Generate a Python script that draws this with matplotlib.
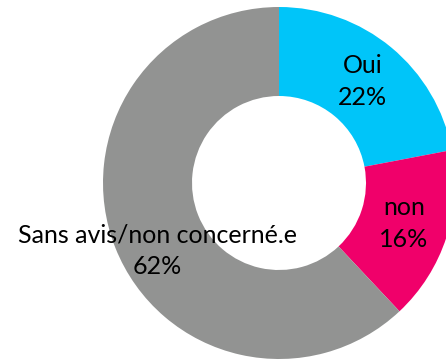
import matplotlib.pyplot as plt
import numpy as np

labels = ["Oui", "non", "Sans avis/non concerné.e"]
shares = [22, 16, 62]
colors = ["#00C5F9", "#F0006A", "#929392"]

plt.rcParams['font.family'] = ['Lato', 'DejaVu Sans']

fig = plt.figure(figsize=(4.46, 3.6), dpi=100)
ax = fig.add_axes([0, 0, 1, 1])

# ring in pixel units so the donut can run off the right edge
cx, cy = 279, 177
r_out, r_in = 176, 87
wedges, _ = ax.pie(shares, colors=colors, startangle=90, counterclock=False,
                   center=(cx, cy), radius=r_out,
                   wedgeprops=dict(width=r_out - r_in, linewidth=0))

# labels sit in the middle of the ring; the long one is nudged down
nudge = [(0, 0), (0, 0), (1, -19)]
r_mid = (r_out + r_in) / 2
for w, lab, val, (dx, dy) in zip(wedges, labels, shares, nudge):
    ang = np.deg2rad((w.theta1 + w.theta2) / 2)
    x = cx + r_mid * np.cos(ang) + dx
    y = cy + r_mid * np.sin(ang) + dy
    ax.text(x, y, f"{lab}\n{val}%", ha="center", va="center",
            fontsize=18, linespacing=1.45, color="black")

ax.set_xlim(0, 446)
ax.set_ylim(0, 360)
ax.set_aspect("equal")
ax.axis("off")

fig.savefig("out.png", dpi=100)
